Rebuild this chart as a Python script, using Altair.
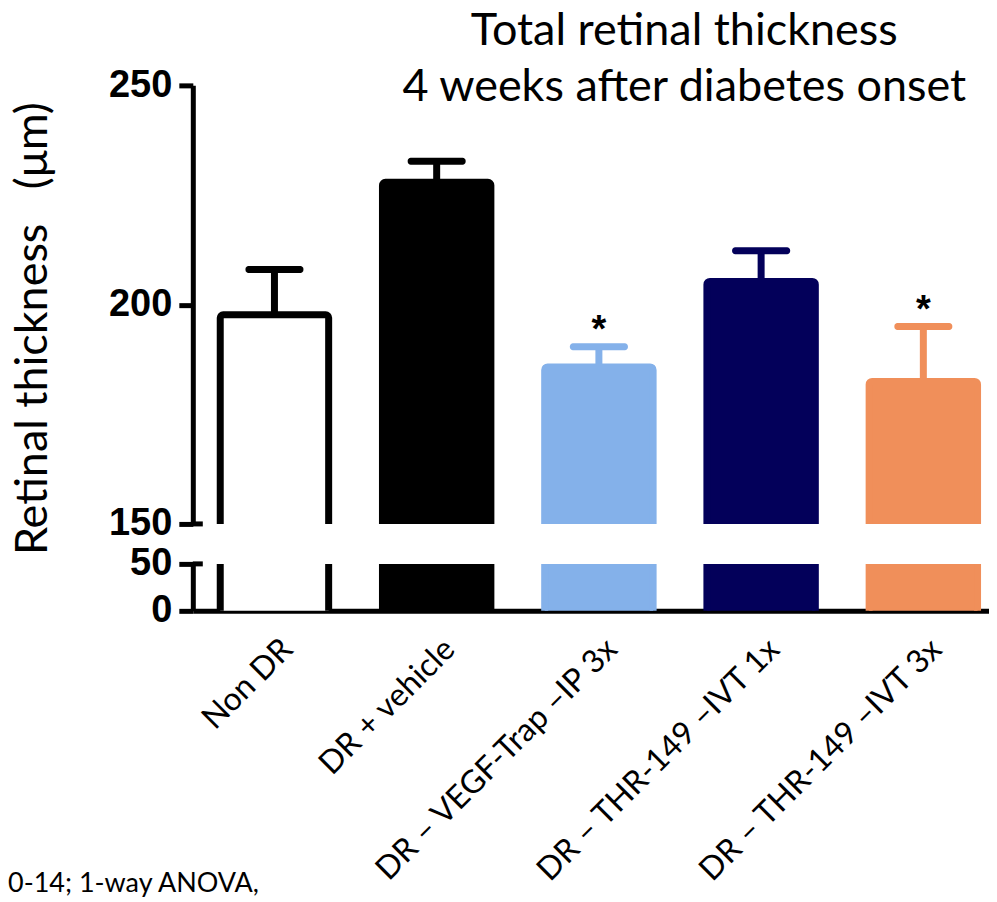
import altair as alt
import pandas as pd

groups = ["Non DR", "DR + vehicle", "DR – VEGF-Trap –IP 3x", "DR – THR-149 –IVT 1x", "DR – THR-149 –IVT 3x"]
means = [197.7, 227.9, 185.8, 205.3, 182.5]
uppers = [208.0, 232.7, 190.4, 212.3, 195.0]
fills = ["#FFFFFF", "#000000", "#84B1EA", "#03005A", "#F08F5A"]
strokes = ["#000000", "#000000", "#84B1EA", "#03005A", "#F08F5A"]
stars = ["", "", "*", "", "*"]
title_lines = ["Total retinal thickness", "4 weeks after diabetes onset"]
y_title = "Retinal thickness\u00a0\u00a0\u00a0(μm)"
footnote = "0-14; 1-way ANOVA,"

df = pd.DataFrame({"group": groups, "mean": means, "upper": uppers,
                   "fill": fills, "stroke": strokes, "star": stars})
one = pd.DataFrame({"a": [0]})

W = 797
H_TOP = 439
H_BOT = 47

xscale = alt.Scale(domain=groups, paddingInner=0.289, paddingOuter=0.0985, align=0.75)

axis_top = alt.Axis(values=[150, 200, 250], tickSize=14, tickWidth=5, domainWidth=5,
                    labelPadding=7, labelFont="Liberation Sans", labelFontSize=38,
                    labelFontWeight="bold", labelColor="black", grid=False,
                    domainColor="black", tickColor="black",
                    title=y_title, titleFont="Lato", titleFontSize=45, titleFontWeight="normal",
                    titleColor="black", titleAngle=270, titleX=-146, titleY=243,
                    titleAlign="center", titleBaseline="alphabetic")
axis_bot = alt.Axis(values=[0, 50], tickSize=14, tickWidth=5, domainWidth=5,
                    labelPadding=7, labelFont="Liberation Sans", labelFontSize=38,
                    labelFontWeight="bold", labelColor="black", grid=False,
                    domainColor="black", tickColor="black", title=None)
xaxis_bot = alt.Axis(labelAngle=-45, labelAlign="right", labelBaseline="middle",
                     labelOffset=13, labelPadding=33, ticks=False, domainWidth=5,
                     domainColor="black", labelFont="Lato", labelFontSize=32,
                     labelColor="black", labelLimit=1000, title=None)

def panel(dom, axis, xaxis, h, top):
    ys = alt.Scale(domain=dom, zero=False, nice=False)
    x = alt.X("group:N", scale=xscale, axis=xaxis, sort=groups)
    base = alt.Chart(df)
    stems = base.mark_rule(strokeWidth=7, clip=True, opacity=1).encode(
        x=x, y=alt.Y("mean:Q", scale=ys, axis=axis), y2="upper:Q",
        color=alt.Color("stroke:N", scale=None))
    caps = base.mark_tick(thickness=7, size=58, cornerRadius=3, clip=True, opacity=1).encode(
        x=x, y=alt.Y("upper:Q", scale=ys, axis=axis),
        color=alt.Color("stroke:N", scale=None))
    bars = base.mark_bar(width=alt.RelativeBandSize(0.94), strokeWidth=7,
                         cornerRadius=3, clip=True, opacity=1).encode(
        x=x, y=alt.Y("mean:Q", scale=ys, axis=axis),
        y2=alt.datum(dom[0] - 10),
        fill=alt.Fill("fill:N", scale=None),
        stroke=alt.Stroke("stroke:N", scale=None))
    brk = alt.Chart(one).mark_rule(strokeWidth=5, color="black").encode(
        x=alt.value(0), x2=alt.value(10),
        y=alt.datum(dom[0] if top else dom[1]))
    layers = [stems, caps, bars, brk]
    if top:
        starm = base.mark_text(fontSize=38, fontWeight="bold", font="Liberation Sans",
                               baseline="alphabetic", dy=-5, color="black").encode(
            x=x, y=alt.Y("upper:Q", scale=ys, axis=axis), text="star:N")
        ttl = alt.Chart(one).mark_text(text=title_lines, font="Lato", fontSize=45,
                                       lineHeight=56, align="center",
                                       baseline="alphabetic", color="black").encode(
            x=alt.value(492), y=alt.value(-40.5))
        layers += [starm, ttl]
    else:
        fn = alt.Chart(one).mark_text(text=footnote, font="Lato", fontSize=27,
                                      align="left", baseline="alphabetic",
                                      color="black").encode(
            x=alt.value(-185), y=alt.value(328))
        layers += [fn]
    return alt.layer(*layers).properties(width=W, height=h)

top = panel([150, 250], axis_top, None, H_TOP, True)
bot = panel([0, 50], axis_bot, xaxis_bot, H_BOT, False)

chart = alt.vconcat(top, bot, spacing=40, bounds="flush").properties(
    padding={"left": 0, "top": 0, "right": 0, "bottom": 0}
).configure_view(stroke=None)

chart.save("out.html", embed_options={"renderer": "svg", "actions": False})
